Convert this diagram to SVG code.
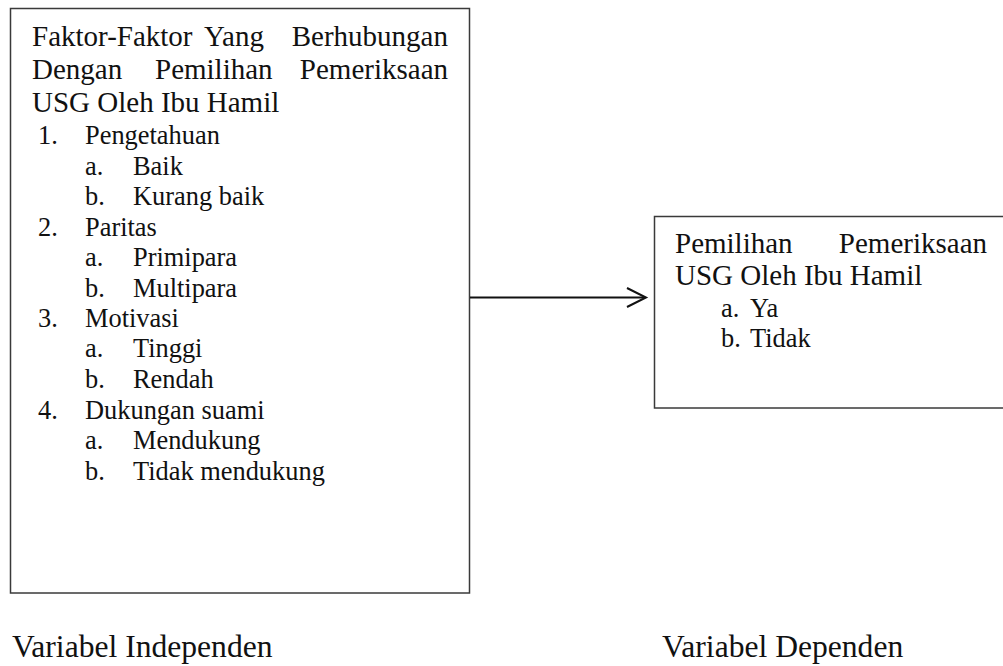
<svg xmlns="http://www.w3.org/2000/svg" width="1003" height="666" viewBox="0 0 1003 666">
  <style>
    .box { fill: #ffffff; stroke: #3a3a3a; stroke-width: 1.5; }
    .title { font-family: "Liberation Serif", "Times New Roman", serif; font-size: 29px; fill: #111; }
    .item { font-family: "Liberation Serif", "Times New Roman", serif; font-size: 26.4px; fill: #111; }
    .label { font-family: "Liberation Serif", "Times New Roman", serif; font-size: 31.6px; fill: #111; }
    .conn { stroke: #111; stroke-width: 2; fill: none; }
  </style>
  <rect width="1003" height="666" fill="#ffffff"/>

  <g id="node-independen">
    <rect class="box" x="10.5" y="8.5" width="459" height="584.5"/>
    <text class="title" x="32" y="46">Faktor-Faktor</text>
    <text class="title" x="204" y="46">Yang</text>
    <text class="title" x="448" y="46" text-anchor="end">Berhubungan</text>
    <text class="title" x="32" y="79">Dengan</text>
    <text class="title" x="155" y="79">Pemilihan</text>
    <text class="title" x="448" y="79" text-anchor="end">Pemeriksaan</text>
    <text class="title" x="32" y="112">USG Oleh Ibu Hamil</text>

    <text class="item" x="38" y="144">1.</text><text class="item" x="85" y="144">Pengetahuan</text>
    <text class="item" x="85" y="175">a.</text><text class="item" x="133" y="175">Baik</text>
    <text class="item" x="85" y="205">b.</text><text class="item" x="133" y="205">Kurang baik</text>
    <text class="item" x="38" y="236">2.</text><text class="item" x="85" y="236">Paritas</text>
    <text class="item" x="85" y="266">a.</text><text class="item" x="133" y="266">Primipara</text>
    <text class="item" x="85" y="297">b.</text><text class="item" x="133" y="297">Multipara</text>
    <text class="item" x="38" y="327">3.</text><text class="item" x="85" y="327">Motivasi</text>
    <text class="item" x="85" y="357">a.</text><text class="item" x="133" y="357">Tinggi</text>
    <text class="item" x="85" y="388">b.</text><text class="item" x="133" y="388">Rendah</text>
    <text class="item" x="38" y="419">4.</text><text class="item" x="85" y="419">Dukungan suami</text>
    <text class="item" x="85" y="449">a.</text><text class="item" x="133" y="449">Mendukung</text>
    <text class="item" x="85" y="480">b.</text><text class="item" x="133" y="480">Tidak mendukung</text>
  </g>

  <g id="node-dependen">
    <rect class="box" x="654.5" y="216.5" width="360" height="191.5"/>
    <text class="title" x="675" y="253">Pemilihan</text>
    <text class="title" x="987" y="253" text-anchor="end">Pemeriksaan</text>
    <text class="title" x="675" y="285">USG Oleh Ibu Hamil</text>
    <text class="item" x="721" y="317">a.</text><text class="item" x="750" y="317">Ya</text>
    <text class="item" x="721" y="347">b.</text><text class="item" x="750" y="347">Tidak</text>
  </g>

  <g id="connectors">
    <line class="conn" x1="470" y1="297.5" x2="645" y2="297.5"/>
    <polyline class="conn" points="627,288 646,297.5 627,307"/>
  </g>

  <g id="labels">
    <text class="label" x="12" y="657">Variabel Independen</text>
    <text class="label" x="662" y="657">Variabel Dependen</text>
  </g>
</svg>
